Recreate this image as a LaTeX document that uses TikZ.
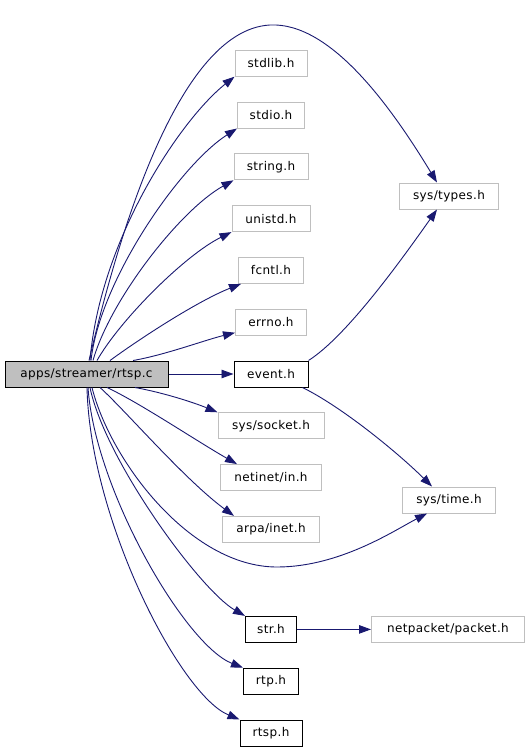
\documentclass[tikz,border=0pt]{standalone}
\usepackage{fontspec}
\setmainfont{DejaVu Sans}[LetterSpace=3]
\usetikzlibrary{arrows.meta, positioning}
\definecolor{edgeblue}{HTML}{191970}
\definecolor{hdrgray}{HTML}{BFBFBF}

\begin{document}
\begin{tikzpicture}[
        x=1pt, y=-1pt,
        node distance=24.8pt and 65pt,
        file/.style={rectangle, draw=black, line width=1pt, inner sep=0pt,
                   minimum height=26pt, font=\fontsize{12}{14}\selectfont},
        syshdr/.style={file, draw=hdrgray},
        inc/.style={edgeblue, line width=0.9pt, -{Triangle[length=12pt, width=8.5pt]}}
    ]
    \useasboundingbox (0,0) rectangle (528,747);

    % middle column
    \node[file, minimum width=74pt] (event) at (271,374) {event.h};
    \node[syshdr, minimum width=71pt, above=of event] (errno) {errno.h};
    \node[syshdr, minimum width=65pt, above=of errno] (fcntl) {fcntl.h};
    \node[syshdr, minimum width=78pt, above=of fcntl] (unistd) {unistd.h};
    \node[syshdr, minimum width=74pt, above=of unistd] (string) {string.h};
    \node[syshdr, minimum width=67pt, above=of string] (stdio) {stdio.h};
    \node[syshdr, minimum width=72pt, above=of stdio] (stdlib) {stdlib.h};
    \node[syshdr, minimum width=106pt, below=of event] (socket) {sys/socket.h};
    \node[syshdr, minimum width=101pt, below=of socket] (netinet) {netinet/in.h};
    \node[syshdr, minimum width=97pt, below=of netinet] (arpa) {arpa/inet.h};
    \node[file, minimum width=51pt, below=73pt of arpa] (str) {str.h};
    \node[file, minimum width=55pt, below=of str] (rtp) {rtp.h};
    \node[file, minimum width=62pt, below=of rtp] (rtsp) {rtsp.h};

    \node[file, fill=hdrgray, minimum width=163pt, left=of event] (root) {apps/streamer/rtsp.c};

    % right column
    \node[syshdr, minimum width=99pt] (types) at (449,196) {sys/types.h};
    \node[syshdr, minimum width=93pt] (time) at (449,500) {sys/time.h};
    \node[syshdr, minimum width=153pt, right=74pt of str] (packet) {netpacket/packet.h};

    % includes of rtsp.c
    \draw[inc] ([xshift=2.5pt]root.north) .. controls (115,250) and (175,30) .. (270,25)
               .. controls (330,22) and (390,105) .. ([xshift=-12pt]types.north);
    \draw[inc] ([xshift=3.5pt]root.north) .. controls (100,240) and (180,120) .. (stdlib.south west);
    \draw[inc] ([xshift=4.5pt]root.north) .. controls (100,280) and (180,165) .. (stdio.south west);
    \draw[inc] ([xshift=6.5pt]root.north) .. controls (110,300) and (180,210) .. (string.south west);
    \draw[inc] ([xshift=10.5pt]root.north) .. controls (120,320) and (185,255) .. (unistd.south west);
    \draw[inc] ([xshift=23.5pt]root.north) .. controls (145,335) and (200,300) .. ([xshift=3pt]fcntl.south west);
    \draw[inc] ([xshift=46.5pt]root.north) .. controls (165,355) and (205,340) .. ([yshift=3pt]errno.south west);
    \draw[inc] (root) -- (event);
    \draw[inc] ([xshift=48.5pt]root.south) .. controls (165,393) and (195,403) .. (socket.north west);
    \draw[inc] ([xshift=20.5pt]root.south) .. controls (140,403) and (195,440) .. ([xshift=17pt]netinet.north west);
    \draw[inc] ([xshift=13.5pt]root.south) .. controls (125,410) and (185,480) .. ([xshift=12pt]arpa.north west);
    \draw[inc] ([xshift=5.5pt]root.south) .. controls (110,460) and (190,567) .. (277,567)
               .. controls (340,567) and (395,530) .. ([xshift=-22pt]time.south);
    \draw[inc] ([xshift=3.5pt]root.south) .. controls (105,460) and (200,590) .. (str.north west);
    \draw[inc] ([xshift=1.5pt]root.south) .. controls (95,490) and (185,645) .. (rtp.north west);
    \draw[inc] ([xshift=0.5pt]root.south) .. controls (90,520) and (180,695) .. (rtsp.north west);

    % includes of local headers
    \draw[inc] (event.north east) .. controls (347,336) and (402,259) .. ([xshift=-12pt]types.south);
    \draw[inc] ([xshift=-6pt]event.south east) .. controls (342,407) and (397,452) .. ([xshift=-17pt]time.north);
    \draw[inc] (str) -- (packet);

\end{tikzpicture}
\end{document}
